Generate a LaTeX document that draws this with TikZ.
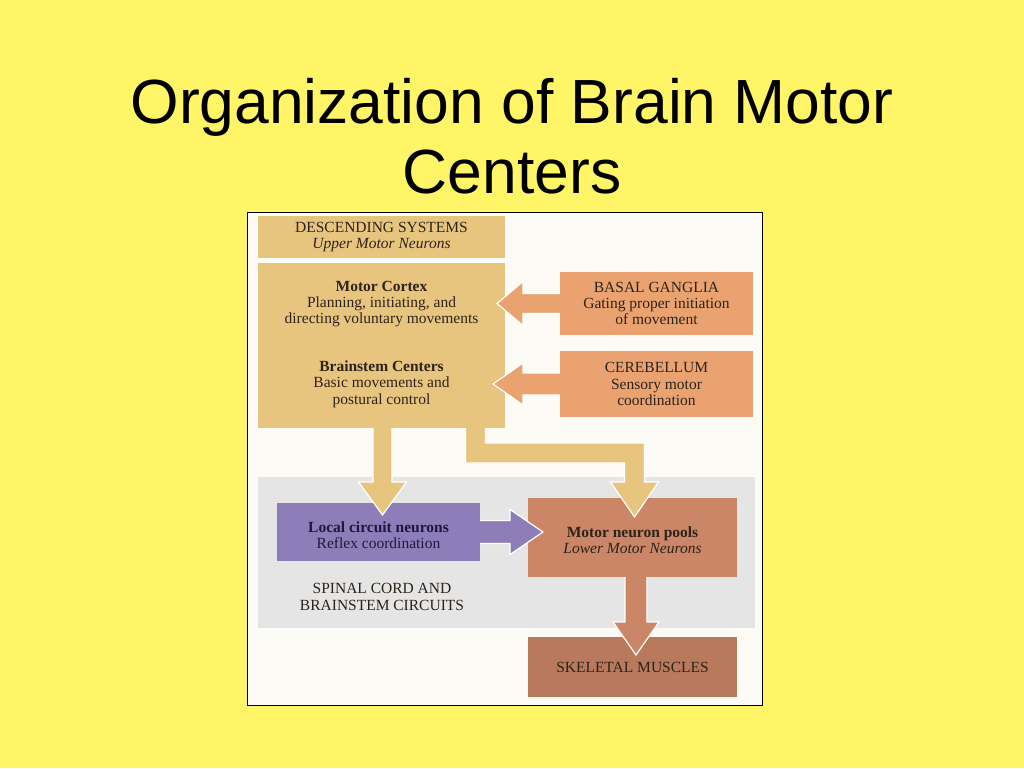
\documentclass[tikz,border=0pt]{standalone}
\usepackage{fontspec}
\setmainfont{Liberation Serif}
\newfontfamily\titlefont{Liberation Sans}
\usetikzlibrary{calc}
\definecolor{slide}{RGB}{255,245,102}
\definecolor{panel}{RGB}{252,251,246}
\definecolor{band}{RGB}{229,229,229}
\definecolor{tan}{RGB}{232,197,127}
\definecolor{orng}{RGB}{234,163,112}
\definecolor{purp}{RGB}{141,126,186}
\definecolor{mnpc}{RGB}{203,134,103}
\definecolor{skc}{RGB}{185,121,93}
\definecolor{ink}{RGB}{45,35,25}
\definecolor{navy}{RGB}{30,25,60}
\newcommand\diagfont{\fontsize{15.5}{16.3}\selectfont}
\begin{document}
\begin{tikzpicture}[x=1pt,y=-1pt,
  box/.style={inner sep=0pt, outer sep=0pt, align=center, font=\diagfont, text=ink},
  lbl/.style={inner sep=0pt, align=center, font=\diagfont, text=ink},
  rim/.style={draw=white, line width=1.2pt, line join=miter}]
\fill[slide] (0,0) rectangle (1024,768);
\useasboundingbox (0,0) rectangle (1024,768);
\node[inner sep=0pt, align=center, font={\titlefont\fontsize{62.4}{70}\selectfont}] (title) at (512,136) {Organization of Brain Motor\\Centers};
\node[draw=black, line width=0.8pt, fill=panel, minimum width=515, minimum height=493, inner sep=0pt] (frame) at (504.5,458.5) {};
\node[fill=band, minimum width=497, minimum height=151, inner sep=0pt] (band) at (506.5,552.5) {};
% boxes
\node[box, fill=tan, minimum width=247, minimum height=42] (desc) at (381.5,237) {DESCENDING SYSTEMS\\\textit{Upper Motor Neurons}};
\node[box, fill=tan, minimum width=247, minimum height=165] (main) at (381.5,345.5) {};
\node[lbl] (mc) at (381.5,304) {\textbf{Motor Cortex}\\Planning, initiating, and\\directing voluntary movements};
\node[lbl] (bc) at (381.5,384) {\textbf{Brainstem Centers}\\Basic movements and\\postural control};
\node[box, fill=orng, minimum width=193, minimum height=63] (bg) at (656.5,303.5) {BASAL GANGLIA\\Gating proper initiation\\of movement};
\node[box, fill=orng, minimum width=193, minimum height=66] (cb) at (656.5,384) {CEREBELLUM\\Sensory motor\\coordination};
\node[box, fill=purp, minimum width=203, minimum height=58] (lcn) at (378.5,532) {};
\node[lbl, text=navy] (lcnt) at (378.5,535) {\textbf{Local circuit neurons}\\Reflex coordination};
\node[box, fill=mnpc, minimum width=209, minimum height=79] (mnp) at (632.5,537.5) {};
\node[lbl] (mnpt) at (632.5,540) {\textbf{Motor neuron pools}\\\textit{Lower Motor Neurons}};
\node[box, fill=skc, minimum width=209, minimum height=60] (sk) at (632.5,667) {SKELETAL MUSCLES};
\node[lbl] (spinal) at (382,597) {SPINAL CORD AND\\BRAINSTEM CIRCUITS};
% basal ganglia -> main
\coordinate (B1) at (bg.west);
\coordinate (T1) at ($(main.east |- bg.west)+(-8,0)$);
\fill[orng] ($(B1)+(0.5,-10)$) -- ($(T1)+(26,-10)$) -- ($(T1)+(26,-22)$) -- (T1) -- ($(T1)+(26,22)$) -- ($(T1)+(26,10)$) -- ($(B1)+(0.5,10)$) -- cycle;
\draw[rim] ($(B1)+(0,-10)$) -- ($(T1)+(26,-10)$) -- ($(T1)+(26,-22)$) -- (T1) -- ($(T1)+(26,22)$) -- ($(T1)+(26,10)$) -- ($(B1)+(0,10)$);
% cerebellum -> main
\coordinate (B2) at (cb.west);
\coordinate (T2) at ($(main.east |- cb.west)+(-12,0)$);
\fill[orng] ($(B2)+(0.5,-11)$) -- ($(T2)+(30,-11)$) -- ($(T2)+(30,-21)$) -- (T2) -- ($(T2)+(30,21)$) -- ($(T2)+(30,11)$) -- ($(B2)+(0.5,11)$) -- cycle;
\draw[rim] ($(B2)+(0,-11)$) -- ($(T2)+(30,-11)$) -- ($(T2)+(30,-21)$) -- (T2) -- ($(T2)+(30,21)$) -- ($(T2)+(30,11)$) -- ($(B2)+(0,11)$);
% main -> local circuit neurons
\coordinate (S3) at ($(main.south)+(1,0)$);
\coordinate (T3) at ($(lcn.north -| S3)+(0,12)$);
\fill[tan] ($(S3)+(-9.5,-1)$) -- ($(T3)+(-9.5,-33)$) -- ($(T3)+(-24,-33)$) -- (T3) -- ($(T3)+(24,-33)$) -- ($(T3)+(9.5,-33)$) -- ($(S3)+(9.5,-1)$) -- cycle;
\draw[rim] ($(S3)+(-9.5,0)$) -- ($(T3)+(-9.5,-33)$) -- ($(T3)+(-24,-33)$) -- (T3) -- ($(T3)+(24,-33)$) -- ($(T3)+(9.5,-33)$) -- ($(S3)+(9.5,0)$);
% main -> motor neuron pools
\coordinate (S4) at ($(main.south)+(94,0)$);
\coordinate (T4) at ($(mnp.north)+(2,19)$);
\fill[tan] ($(S4)+(-10,-1)$) -- ($(S4)+(-10,35)$) -- ($(T4 |- S4)+(-10,35)$) -- ($(T4)+(-10,-35)$) -- ($(T4)+(-24,-35)$) -- (T4) -- ($(T4)+(24,-35)$) -- ($(T4)+(10,-35)$) -- ($(T4 |- S4)+(10,15)$) -- ($(S4)+(10,15)$) -- ($(S4)+(10,-1)$) -- cycle;
\draw[rim] ($(S4)+(-10,0)$) -- ($(S4)+(-10,35)$) -- ($(T4 |- S4)+(-10,35)$) -- ($(T4)+(-10,-35)$) -- ($(T4)+(-24,-35)$) -- (T4) -- ($(T4)+(24,-35)$) -- ($(T4)+(10,-35)$) -- ($(T4 |- S4)+(10,15)$) -- ($(S4)+(10,15)$) -- ($(S4)+(10,0)$);
% local circuit -> motor neuron pools
\coordinate (S5) at (lcn.east);
\coordinate (T5) at ($(mnp.west |- lcn.east)+(15,0)$);
\fill[purp] ($(S5)+(-0.5,-11.5)$) -- ($(T5)+(-33,-11.5)$) -- ($(T5)+(-33,-22.5)$) -- (T5) -- ($(T5)+(-33,22.5)$) -- ($(T5)+(-33,11.5)$) -- ($(S5)+(-0.5,11.5)$) -- cycle;
\draw[rim] ($(S5)+(0,-11.5)$) -- ($(T5)+(-33,-11.5)$) -- ($(T5)+(-33,-22.5)$) -- (T5) -- ($(T5)+(-33,22.5)$) -- ($(T5)+(-33,11.5)$) -- ($(S5)+(0,11.5)$);
% motor neuron pools -> skeletal muscles
\coordinate (S6) at ($(mnp.south)+(3.5,0)$);
\coordinate (T6) at ($(sk.north -| S6)+(0,18)$);
\fill[mnpc] ($(S6)+(-11,-1)$) -- ($(T6)+(-11,-33)$) -- ($(T6)+(-23,-33)$) -- (T6) -- ($(T6)+(23,-33)$) -- ($(T6)+(11,-33)$) -- ($(S6)+(11,-1)$) -- cycle;
\draw[rim] ($(S6)+(-11,0)$) -- ($(T6)+(-11,-33)$) -- ($(T6)+(-23,-33)$) -- (T6) -- ($(T6)+(23,-33)$) -- ($(T6)+(11,-33)$) -- ($(S6)+(11,0)$);
\end{tikzpicture}
\end{document}
